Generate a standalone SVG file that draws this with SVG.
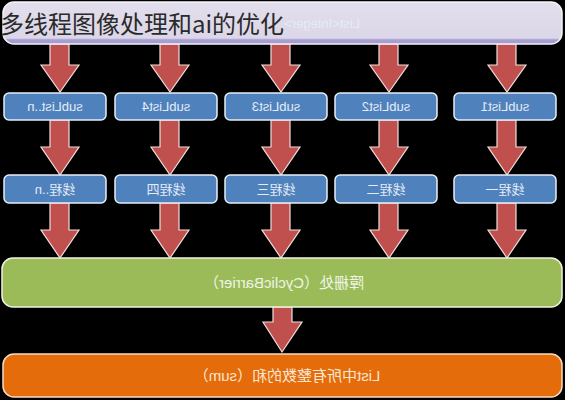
<svg xmlns="http://www.w3.org/2000/svg" width="565" height="400" viewBox="0 0 565 400">
<defs>
<linearGradient id="gTop" x1="0" y1="0" x2="0" y2="1">
<stop offset="0" stop-color="#e2deec"/>
<stop offset="0.86" stop-color="#dcd7e8"/>
<stop offset="0.9" stop-color="#a8a0d2"/>
<stop offset="1" stop-color="#a39bcc"/>
</linearGradient>
</defs>
<style>
.arrow{fill:#c0504d;stroke:#f2dede;stroke-width:1.2}
.blue{fill:#4f81bd;stroke:#e8eef6;stroke-width:1.5}
.btxt{font-family:"Liberation Sans","Noto Sans CJK SC",sans-serif;font-size:13px;fill:#e4ecf6;text-anchor:middle}
.big{font-family:"Liberation Sans","Noto Sans CJK SC",sans-serif;font-size:15px;text-anchor:middle}
</style>
<rect width="565" height="400" fill="#000"/>
<g id="connectors">
<path class="arrow" d="M50,44H69V65H79L60,92L41,65H50Z"/>
<path class="arrow" d="M160,44H179V65H189L170,92L151,65H160Z"/>
<path class="arrow" d="M271,44H290V65H300L281,92L262,65H271Z"/>
<path class="arrow" d="M379,44H398V65H408L389,92L370,65H379Z"/>
<path class="arrow" d="M497,44H516V65H526L507,92L488,65H497Z"/>
<path class="arrow" d="M50,120H69V147H79L60,175L41,147H50Z"/>
<path class="arrow" d="M160,120H179V147H189L170,175L151,147H160Z"/>
<path class="arrow" d="M271,120H290V147H300L281,175L262,147H271Z"/>
<path class="arrow" d="M379,120H398V147H408L389,175L370,147H379Z"/>
<path class="arrow" d="M497,120H516V147H526L507,175L488,147H497Z"/>
<path class="arrow" d="M50,203H69V230H79L60,258L41,230H50Z"/>
<path class="arrow" d="M160,203H179V230H189L170,258L151,230H160Z"/>
<path class="arrow" d="M271,203H290V230H300L281,258L262,230H271Z"/>
<path class="arrow" d="M379,203H398V230H408L389,258L370,230H379Z"/>
<path class="arrow" d="M497,203H516V230H526L507,258L488,230H497Z"/>
<path class="arrow" d="M273,307H292V322H302L282,352L263,322H273Z"/>
</g>
<g id="top">
<rect x="3" y="2" width="559" height="42" rx="11" fill="url(#gTop)" stroke="#f4f2f8" stroke-width="1.5"/>
<text class="btxt" x="322" y="28" font-size="10" fill="#f4f2fa" transform="translate(644,0) scale(-1,1)">List&lt;Integer&gt;</text>
</g>
<g id="subList_n"><rect class="blue" x="4" y="93" width="102" height="27" rx="5"/><text class="btxt" x="55" y="111" transform="translate(110,0) scale(-1,1)">subList..n</text></g>
<g id="subList4"><rect class="blue" x="115" y="93" width="102" height="27" rx="5"/><text class="btxt" x="166" y="111" transform="translate(332,0) scale(-1,1)">subList4</text></g>
<g id="subList3"><rect class="blue" x="225" y="93" width="102" height="27" rx="5"/><text class="btxt" x="276" y="111" transform="translate(552,0) scale(-1,1)">subList3</text></g>
<g id="subList2"><rect class="blue" x="335" y="93" width="102" height="27" rx="5"/><text class="btxt" x="386" y="111" transform="translate(772,0) scale(-1,1)">subList2</text></g>
<g id="subList1"><rect class="blue" x="454" y="93" width="102" height="27" rx="5"/><text class="btxt" x="505" y="111" transform="translate(1010,0) scale(-1,1)">subList1</text></g>
<g id="thread_n"><rect class="blue" x="4" y="175" width="102" height="28" rx="5"/><text class="btxt" x="55" y="194" transform="translate(110,0) scale(-1,1)">线程..n</text></g>
<g id="thread4"><rect class="blue" x="115" y="175" width="102" height="28" rx="5"/><text class="btxt" x="166" y="194" transform="translate(332,0) scale(-1,1)">线程四</text></g>
<g id="thread3"><rect class="blue" x="225" y="175" width="102" height="28" rx="5"/><text class="btxt" x="276" y="194" transform="translate(552,0) scale(-1,1)">线程三</text></g>
<g id="thread2"><rect class="blue" x="335" y="175" width="102" height="28" rx="5"/><text class="btxt" x="386" y="194" transform="translate(772,0) scale(-1,1)">线程二</text></g>
<g id="thread1"><rect class="blue" x="454" y="175" width="102" height="28" rx="5"/><text class="btxt" x="505" y="194" transform="translate(1010,0) scale(-1,1)">线程一</text></g>
<g id="barrier"><rect x="2" y="258" width="560" height="49" rx="11" fill="#9bbb59" stroke="#eef4e2" stroke-width="1.5"/><text class="big" x="284" y="288" fill="#eef4e4" transform="translate(568,0) scale(-1,1)">障栅处（CyclicBarrier）</text></g>
<g id="sum"><rect x="3" y="354" width="559" height="43" rx="11" fill="#e46c0a" stroke="#f8dcc4" stroke-width="1.5"/><text class="big" x="287" y="381" fill="#fbe6d4" transform="translate(574,0) scale(-1,1)">List中所有整数的和（sum）</text></g>
<text x="0" y="33" font-family="'Noto Sans CJK SC',sans-serif" font-size="24" fill="#2a2a2a">多线程图像处理和ai的优化</text>
</svg>
